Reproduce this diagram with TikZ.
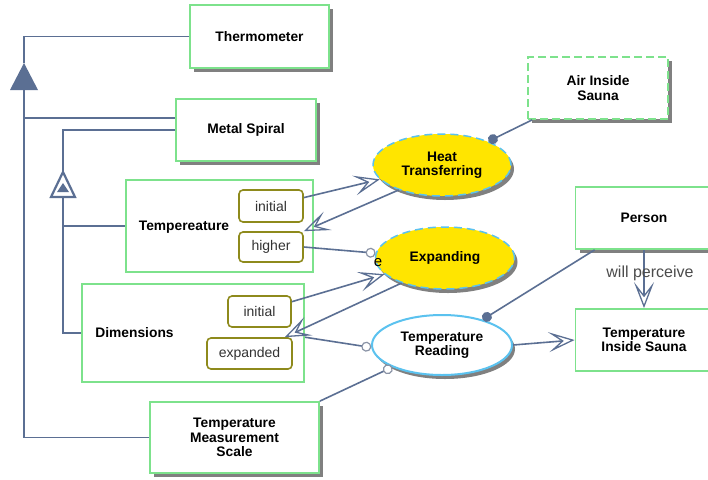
\documentclass[tikz,border=0pt]{standalone}
\usepackage{fontspec}
\setmainfont{Liberation Sans}
\usetikzlibrary{shapes.geometric,arrows.meta,calc,shadows}

\definecolor{linkcol}{HTML}{5B6F93}
\definecolor{objgreen}{HTML}{7DE28C}
\definecolor{stategold}{HTML}{8E8A1C}
\definecolor{procyellow}{HTML}{FFE500}
\definecolor{proccyan}{HTML}{5BC2EF}
\definecolor{shadowgray}{HTML}{808080}
\definecolor{instrgray}{HTML}{8A93A6}

\begin{document}
\begin{tikzpicture}[x=1pt,y=-1pt,
  objbox/.style={draw=objgreen, line width=1.8pt, fill=white, align=center,
    inner sep=0pt, font=\bfseries\fontsize{13.8}{14.5}\selectfont},
  physical/.style={dashed, dash pattern=on 8pt off 4pt},
  shade/.style={drop shadow={shadow xshift=4pt, shadow yshift=-4pt,
    fill=shadowgray, opacity=1}},
  statebox/.style={draw=stategold, line width=1.6pt, rounded corners=4pt,
    fill=white, inner sep=0pt, text=black!80,
    font=\fontsize{14}{14}\selectfont},
  process/.style={ellipse, fill=procyellow, draw=proccyan, line width=1.5pt,
    dash pattern=on 8pt off 5pt, inner sep=0pt, align=center,
    font=\bfseries\fontsize{13.8}{14.5}\selectfont,
    drop shadow={shadow xshift=3pt, shadow yshift=-4pt, fill=shadowgray, opacity=1}},
  conn/.style={draw=linkcol, line width=1.6pt},
  effect/.style={conn, -{Stealth[open, length=26pt, width=20pt, inset=13pt, line width=1.3pt]}},
  agent/.style={conn, -{Circle[length=10pt, fill=linkcol]}},
  instrument/.style={conn, -{Circle[length=10pt, fill=white, color=instrgray, line width=1.2pt]}},
  lbl/.style={inner sep=0pt, font=\bfseries\fontsize{13.8}{14.5}\selectfont}
]
\useasboundingbox (0,0) rectangle (708,479);
\fill[white] (0,0) rectangle (708,479);

% ---------- objects ----------
\node[objbox, shade, minimum width=139pt, minimum height=63pt] (therm) at (259.5,36.5) {Thermometer};
\node[objbox, shade, minimum width=140pt, minimum height=62pt] (ms) at (246,130) {Metal Spiral};
\node[objbox, minimum width=187pt, minimum height=92pt] (temp) at (219.5,226) {};
\node[lbl] (templbl) at (184,227) {Tempereature};
\node[objbox, minimum width=222pt, minimum height=98pt] (dims) at (193,333) {};
\node[lbl] (dimslbl) at (134.5,333) {Dimensions};
\node[objbox, shade, minimum width=169pt, minimum height=71pt] (tms) at (234.5,437.5) {Temperature\\Measurement\\Scale};
\node[objbox, physical, shade, minimum width=140pt, minimum height=62pt] (air) at (598,88) {Air Inside\\Sauna};
\node[objbox, shade, minimum width=137pt, minimum height=62pt] (person) at (644,218) {Person};
\node[objbox, minimum width=137pt, minimum height=62pt] (tis) at (644,340) {Temperature\\Inside Sauna};

% ---------- states ----------
\node[statebox, minimum width=64pt, minimum height=32pt] (tinit) at (271,206) {initial};
\node[statebox, minimum width=64pt, minimum height=30pt] (thigh) at (271,247) {higher};
\node[statebox, minimum width=63pt, minimum height=31pt] (dinit) at (259.5,311.5) {initial};
\node[statebox, minimum width=85pt, minimum height=31pt] (dexp) at (249.5,353.5) {expanded};

% ---------- processes ----------
\node[process, minimum width=138pt, minimum height=62pt] (heat) at (442,165) {Heat\\Transferring};
\node[process, minimum width=139pt, minimum height=62pt] (expand) at (445,258) {Expanding};
\node[process, dash pattern=, line width=2pt, fill=white, minimum width=140pt, minimum height=60pt] (reading) at (442,345) {Temperature\\Reading};

% ---------- aggregation-participation ----------
\coordinate (aggtop) at (24,63);
\coordinate (aggbot) at (24,90);
\coordinate (msagg) at ($(ms.west)+(0,-12)$);
\draw[conn] (therm.west) -| (aggtop);
\draw[conn] (aggbot) |- (tms.west);
\draw[conn] (aggbot |- msagg) -- (msagg);
\fill[linkcol] (aggtop) -- (10,90) -- (38,90) -- cycle;

% ---------- exhibition-characterization ----------
\coordinate (exhtop) at (63,172);
\coordinate (exhbot) at (63,197);
\draw[conn] (ms.west) -| (exhtop);
\draw[conn] (exhbot) |- (dims.west);
\draw[conn] (exhbot |- temp.west) -- (temp.west);
\draw[linkcol, line width=2.2pt, line join=miter] (exhtop) -- (51,197) -- (75,197) -- cycle;
\fill[linkcol] (63,183) -- (57,192) -- (69,192) -- cycle;

% ---------- procedural links ----------
\draw[agent] ($(air.south west)+(5,0)$) -- (heat.27);
\draw[effect] ($(tinit.east)!0.5!(tinit.north east)$) -- (heat.193);
\draw[effect] (heat.210) -- (thigh.north east);
\draw[instrument] (thigh.east) -- (expand.176);
\node[inner sep=0pt, font=\fontsize{15}{15}\selectfont] (evt) at (378,263) {e};
\draw[effect] ($(dinit.east)!0.6!(dinit.north east)$) -- (expand.195);
\draw[effect] (expand.210) -- ($(dexp.north east)+(-8,0)$);
\draw[instrument] (dims.east |- dexp.north) -- (reading.182);
\draw[instrument] (tms.north east) -- (reading.204);
\draw[agent] ($(person.south west)+(20,0)$) -- (reading.32);
\draw[effect] (reading.east) -- (tis.west);
\draw[effect] (person.south) -- (tis.north);
\node[inner sep=0pt, text=black!70, font=\fontsize{16}{16}\selectfont] (perc) at (650,273) {will perceive};
\end{tikzpicture}
\end{document}
